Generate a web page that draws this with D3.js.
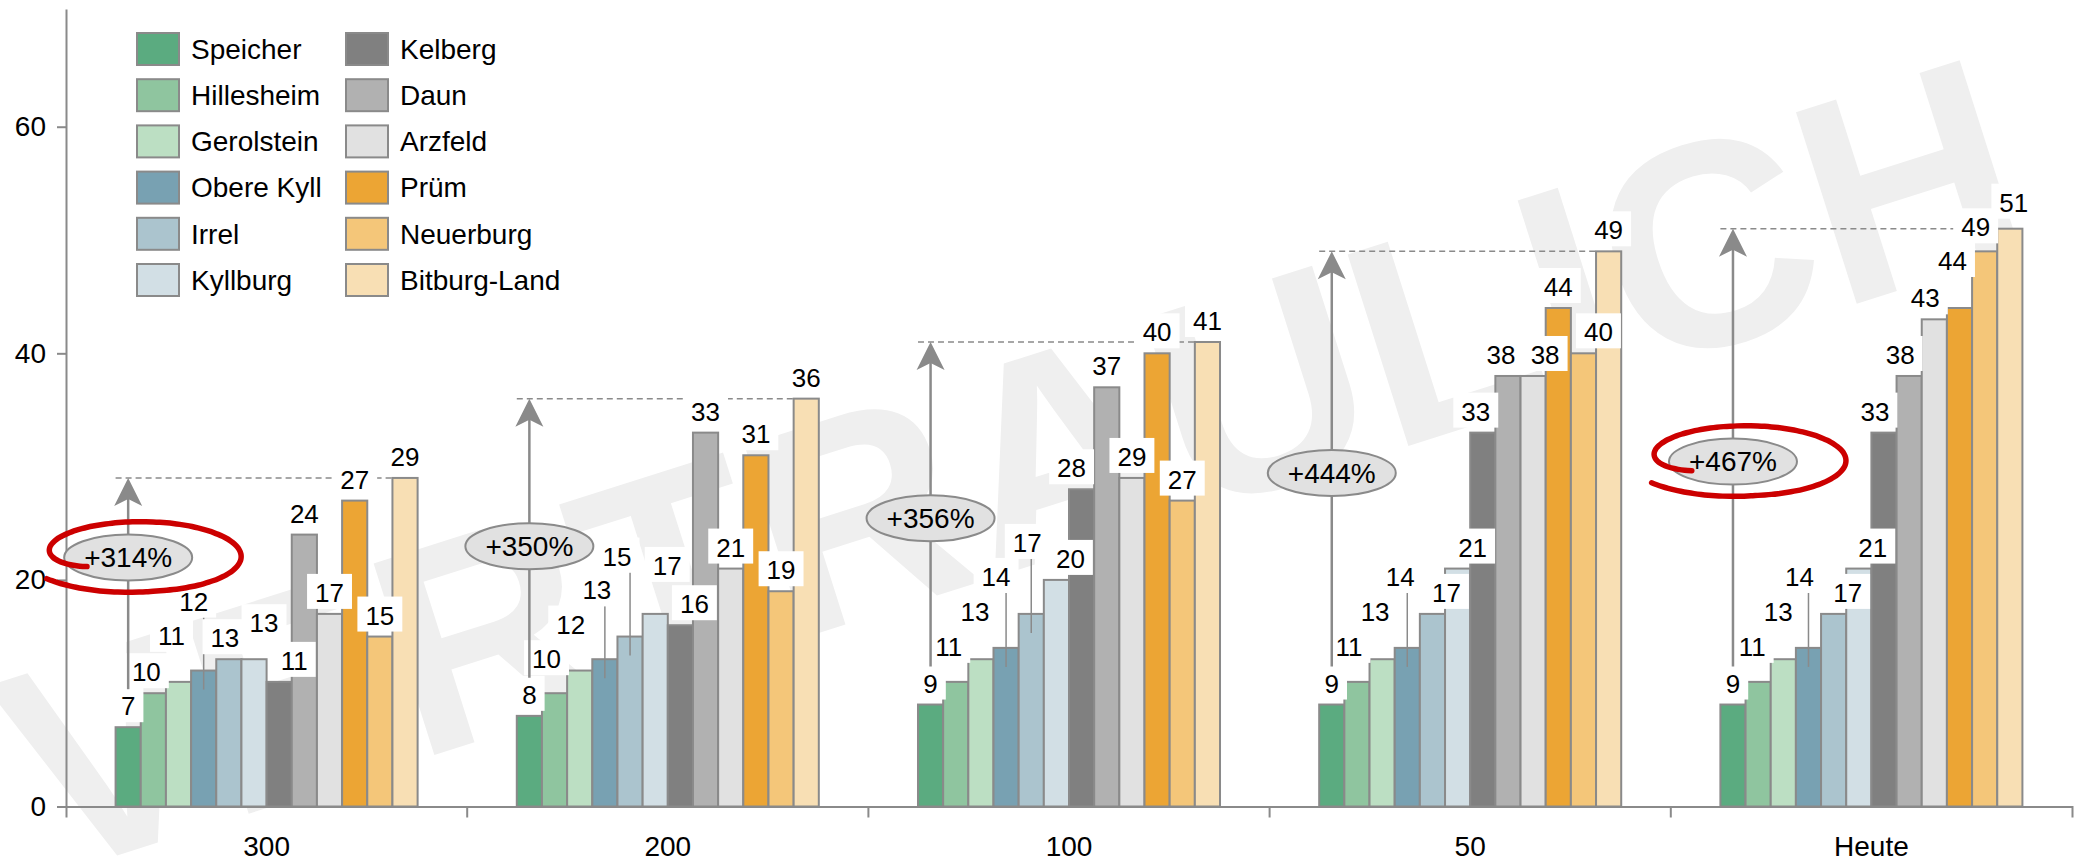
<!DOCTYPE html>
<html>
<head>
<meta charset="utf-8">
<script src="https://cdn.jsdelivr.net/npm/d3@7"></script>
<style>
  html, body { margin: 0; padding: 0; background: #fff; }
  svg { display: block; font-family: "Liberation Sans", Arial, Helvetica, sans-serif; }
</style>
</head>
<body>
<svg id="chart" width="2083" height="861"></svg>
<script>
// ---- data ----
const categories = ["300", "200", "100", "50", "Heute"];
const seriesNames = ["Speicher", "Hillesheim", "Gerolstein", "Obere Kyll", "Irrel", "Kyllburg",
                     "Kelberg", "Daun", "Arzfeld", "Prüm", "Neuerburg", "Bitburg-Land"];
const speicher    = [7, 8, 9, 9, 9];
const hillesheim  = [10, 10, 11, 11, 11];
const gerolstein  = [11, 12, 13, 13, 13];
const obereKyll   = [12, 13, 14, 14, 14];
const irrel       = [13, 15, 17, 17, 17];
const kyllburg    = [13, 17, 20, 21, 21];
const kelberg     = [11, 16, 28, 33, 33];
const daun        = [24, 33, 37, 38, 38];
const arzfeld     = [17, 21, 29, 38, 43];
const pruem       = [27, 31, 40, 44, 44];
const neuerburg   = [15, 19, 27, 40, 49];
const bitburgLand = [29, 36, 41, 49, 51];
const yTicks = [0, 20, 40, 60];
const ringed = ["300", "Heute"];           // growth badges circled in red
const watermark = "VERTRAULICH";

const seriesValues = [speicher, hillesheim, gerolstein, obereKyll, irrel, kyllburg,
                      kelberg, daun, arzfeld, pruem, neuerburg, bitburgLand];

// ---- styling ----
const palette = ["#5bab80", "#8fc59f", "#bcdfc3", "#78a1b2", "#abc4ce", "#d2dfe5",
                 "#808080", "#b1b1b1", "#e1e1e1", "#eca534", "#f4c679", "#f8dfb4"];
const lineGrey = "#8a8a8a";

// label placement tweaks [dx, dy] in px, per category, per series (collision layout)
const labelNudge = [
  [[0,0],[-7,0],[-7,-25],[-10,-48],[-4,0],[10,-15],[15,0],[0,0],[0,0],[0,0],[0,0],[0,0]],
  [[0,0],[-8,-13],[-9,-25],[-8,-48],[-13,-59],[12,-27],[14,0],[0,0],[0,0],[0,0],[0,0],[0,0]],
  [[0,0],[-7,-14],[-6,-26],[-10,-50],[-4,-50],[14,0],[-10,0],[0,0],[0,0],[0,0],[0,0],[0,0]],
  [[0,0],[-8,-14],[-7,-26],[-7,-50],[14,0],[15,0],[-7,0],[-7,0],[12,0],[0,0],[15,0],[0,0]],
  [[0,0],[-6,-14],[-5,-26],[-9,-50],[14,0],[14,0],[-9,0],[-9,0],[-9,0],[-7,-26],[-9,-3],[4,-5]]
];

const svg = d3.select("#chart");

// ---- scales ----
const x = d3.scaleBand().domain(categories).range([66, 2072]);
const bw = x.bandwidth();
const inner = d3.scaleBand().domain(seriesNames).range([bw * 0.1236, bw * (1 - 0.1236)]);
const y = d3.scaleLinear().domain([0, 70.4]).range([806.5, 8.9]);

const table = categories.map((cat, g) => ({
  cat, g,
  rows: seriesNames.map((s, i) => ({ s, i, v: seriesValues[i][g] }))
}));

// ---- watermark ----
svg.append("text")
  .attr("transform", "translate(1010,462) rotate(-17.6)")
  .attr("text-anchor", "middle")
  .attr("dy", "0.36em")
  .attr("font-size", 292)
  .attr("font-weight", "bold")
  .attr("fill", "#efefef")
  .text(watermark);

// ---- bars ----
svg.append("g").selectAll("g").data(table).join("g")
  .attr("transform", d => `translate(${x(d.cat)},0)`)
  .selectAll("rect").data(d => d.rows).join("rect")
  .attr("x", r => inner(r.s))
  .attr("y", r => y(r.v))
  .attr("width", inner.bandwidth())
  .attr("height", r => y(0) - y(r.v))
  .attr("fill", r => palette[r.i])
  .attr("stroke", lineGrey)
  .attr("stroke-width", 2);

// label anchor positions
table.forEach(d => {
  d.labels = d.rows.map(r => {
    const [dx, dy] = labelNudge[d.g][r.i];
    const cx = x(d.cat) + inner(r.s) + inner.bandwidth() / 2;
    return { r, cx, tx: cx + dx, base: y(r.v) - 12 + dy, lift: dy };
  });
  d.maxV = d3.max(d.rows, r => r.v);
  d.maxRow = d.rows.find(r => r.v === d.maxV);
});

// ---- dashed reference line at the group maximum ----
svg.append("g").selectAll("line").data(table).join("line")
  .attr("x1", d => x(d.cat) + inner(seriesNames[0]))
  .attr("x2", d => x(d.cat) + inner(d.maxRow.s))
  .attr("y1", d => y(d.maxV))
  .attr("y2", d => y(d.maxV))
  .attr("stroke", lineGrey)
  .attr("stroke-width", 1.5)
  .attr("stroke-dasharray", "6,4");

const allLabels = table.flatMap(d => d.labels);

// ---- leader lines for lifted labels ----
svg.append("g").selectAll("line").data(allLabels.filter(l => l.lift <= -40)).join("line")
  .attr("x1", l => l.cx).attr("x2", l => l.cx)
  .attr("y1", l => l.base + 7)
  .attr("y2", l => y(l.r.v) + 19)
  .attr("stroke", lineGrey)
  .attr("stroke-width", 1.5);

// ---- value labels on white boxes ----
const lg = svg.append("g").selectAll("g").data(allLabels).join("g");
lg.append("rect").attr("fill", "#fff");
lg.append("text")
  .attr("x", l => l.tx)
  .attr("y", l => l.base)
  .attr("text-anchor", "middle")
  .attr("font-size", 26)
  .attr("fill", "#000")
  .text(l => l.r.v);
lg.each(function (l) {
  const w = this.querySelector("text").getComputedTextLength();
  l.box = { x0: l.tx - w / 2 - 8, x1: l.tx + w / 2 + 8, y0: l.base - 28, y1: l.base + 7 };
  d3.select(this).select("rect")
    .attr("x", l.box.x0).attr("y", l.box.y0)
    .attr("width", l.box.x1 - l.box.x0).attr("height", l.box.y1 - l.box.y0);
});

// ---- axes ----
const yAxis = d3.axisLeft(y).tickValues(yTicks).tickSize(9).tickSizeOuter(0).tickPadding(11);
svg.append("g").attr("transform", "translate(66,0)").call(yAxis)
  .attr("font-family", null).attr("font-size", 28)
  .call(g => g.select(".domain").attr("stroke", lineGrey).attr("stroke-width", 2))
  .call(g => g.selectAll(".tick line").attr("stroke", lineGrey).attr("stroke-width", 2))
  .call(g => g.selectAll(".tick text").attr("fill", "#000"));

const xAxis = d3.axisBottom(x).tickSize(0).tickSizeOuter(11).tickPadding(29.5);
svg.append("g").attr("transform", `translate(0,${y(0)})`).call(xAxis)
  .attr("font-family", null).attr("font-size", 28)
  .call(g => g.select(".domain").attr("stroke", lineGrey).attr("stroke-width", 2))
  .call(g => g.selectAll(".tick text").attr("fill", "#000"));

svg.append("g").selectAll("line").data(categories.slice(1)).join("line")
  .attr("x1", c => x(c)).attr("x2", c => x(c))
  .attr("y1", y(0)).attr("y2", y(0) + 11)
  .attr("stroke", lineGrey).attr("stroke-width", 2);

// ---- growth arrows and badges ----
const rx = 64, ry = 23;
const growth = svg.append("g");
table.forEach(d => {
  const first = d.labels[0];
  const ax = first.cx;
  const yTop = y(d.maxV);
  const yBottom = first.base - 26;

  growth.append("line")
    .attr("x1", ax).attr("x2", ax)
    .attr("y1", yBottom).attr("y2", yTop + 20)
    .attr("stroke", lineGrey).attr("stroke-width", 2.5);
  growth.append("path")
    .attr("d", `M${ax},${yTop} L${ax - 14},${yTop + 28} L${ax},${yTop + 21} L${ax + 14},${yTop + 28} Z`)
    .attr("fill", lineGrey);

  // badge sits a bit below the arrow midpoint, lifted clear of value labels
  let by = (yTop + yBottom) / 2 + 14;
  let moved = true;
  while (moved) {
    moved = false;
    for (const l of d.labels) {
      if (l.box.x1 > ax - rx && l.box.x0 < ax + rx && l.box.y0 < by + ry && l.box.y1 > by - ry) {
        by = l.box.y0 - ry - 2;
        moved = true;
      }
    }
  }
  d.badge = { x: ax, y: by };

  growth.append("ellipse")
    .attr("cx", ax).attr("cy", by).attr("rx", rx).attr("ry", ry)
    .attr("fill", "#e1e1e1").attr("stroke", lineGrey).attr("stroke-width", 2);
  const pct = Math.round((d.maxV / d.rows[0].v - 1) * 100);
  growth.append("text")
    .attr("x", ax).attr("y", by).attr("dy", "0.35em")
    .attr("text-anchor", "middle").attr("font-size", 28).attr("fill", "#000")
    .text(`+${pct}%`);
});

// ---- hand-drawn red rings ----
const ringLine = d3.line().curve(d3.curveCatmullRom);
table.filter(d => ringed.includes(d.cat)).forEach(d => {
  const cx = d.badge.x + 12, cy = d.badge.y - 1;
  const RX = 101, RY = 35;
  const t0 = Math.PI - 0.5, t1 = 3 * Math.PI - 0.6;
  const pts = d3.range(0, 1.0001, 1 / 90).map(p => {
    const t = t0 + p * (t1 - t0);
    const s = 1 - 0.4 * Math.exp(-p * 14) + 0.12 * Math.max(0, p - 0.82) / 0.18;
    return [cx + RX * s * Math.cos(t), cy + RY * s * Math.sin(t)];
  });
  svg.append("path")
    .attr("d", ringLine(pts))
    .attr("fill", "none")
    .attr("stroke", "#cc0000")
    .attr("stroke-width", 5.5)
    .attr("stroke-linecap", "round");
});

// ---- legend ----
const legendCols = [137, 346];
const legend = svg.append("g").selectAll("g").data(seriesNames).join("g")
  .attr("transform", (s, i) => `translate(${legendCols[Math.floor(i / 6)]},${33 + (i % 6) * 46.2})`);
legend.append("rect")
  .attr("width", 42).attr("height", 32)
  .attr("fill", (s, i) => palette[i])
  .attr("stroke", lineGrey).attr("stroke-width", 2);
legend.append("text")
  .attr("x", 54).attr("y", 16).attr("dy", "0.35em")
  .attr("font-size", 28).attr("fill", "#000")
  .text(s => s);
</script>
</body>
</html>
